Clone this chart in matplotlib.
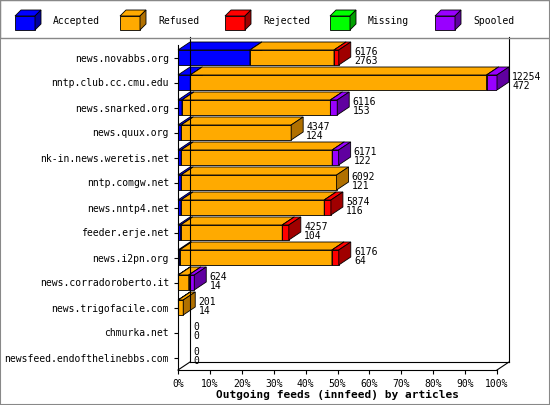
import matplotlib
matplotlib.use("Agg")
import matplotlib.pyplot as plt
from matplotlib.patches import Polygon, Rectangle
import numpy as np

plt.rcParams['font.family'] = 'DejaVu Sans Mono'

hosts = ["news.novabbs.org", "nntp.club.cc.cmu.edu", "news.snarked.org", "news.quux.org",
         "nk-in.news.weretis.net", "nntp.comgw.net", "news.nntp4.net", "feeder.erje.net",
         "news.i2pn.org", "news.corradoroberto.it", "news.trigofacile.com", "chmurka.net",
         "newsfeed.endofthelinebbs.com"]
offered = [6176, 12254, 6116, 4347, 6171, 6092, 5874, 4257, 6176, 624, 201, 0, 0]
accepted = [2763, 472, 153, 124, 122, 121, 116, 104, 64, 14, 14, 0, 0]
refused = [3230, 11382, 5700, 4223, 5800, 5971, 5500, 3900, 5850, 400, 187, 0, 0]
rejected = [183, 0, 0, 0, 0, 0, 258, 253, 262, 0, 0, 0, 0]
missing = [0] * 13
spooled = [0, 400, 263, 0, 249, 0, 0, 0, 0, 210, 0, 0, 0]

series = [("Accepted", accepted, "#0000ff", "#0000a0"),
          ("Refused", refused, "#ffaa00", "#b07000"),
          ("Rejected", rejected, "#ff0000", "#a00000"),
          ("Missing", missing, "#00ff00", "#00a000"),
          ("Spooled", spooled, "#9900ff", "#6000a0")]

W, H = 550, 405
fig = plt.figure(figsize=(W/100, H/100), dpi=100)
fig.patches.append(Rectangle((0, 0), 1, 1, transform=fig.transFigure, fill=False, ec="#888888", lw=1.5))
fig.patches.append(Rectangle((0, 0.905), 1, 0.095, transform=fig.transFigure, fill=False, ec="#888888", lw=1))

x0, x1, y0, y1 = 178, 497, 370, 45
ax = fig.add_axes([x0/W, 1-y0/H, (x1-x0)/W, (y0-y1)/H])
n = len(hosts)
ax.set_xlim(0, 100)
ax.set_ylim(n-0.5, -0.5)
maxv = max(offered)
DX, DY = 12, 8
dx = DX/(x1-x0)*100
dy = DY/(y0-y1)*n
h = 0.6

# back walls
kw = dict(color="black", lw=0.8, clip_on=False)
ax.plot([dx, dx], [n-0.5-dy, -0.5-dy], **kw)
ax.plot([dx, 100+dx], [n-0.5-dy, n-0.5-dy], **kw)
ax.plot([100+dx, 100+dx], [n-0.5-dy, -0.5-dy], **kw)
ax.plot([0, dx], [n-0.5, n-0.5-dy], **kw)
ax.plot([100, 100+dx], [n-0.5, n-0.5-dy], **kw)

for i in range(n):
    left = 0
    for name, vals, c, cd in series:
        w = vals[i]/maxv*100
        if w <= 0:
            continue
        r = left + w
        t, b = i-h/2, i+h/2
        ax.add_patch(Rectangle((left, t), w, h, fc=c, ec="black", lw=0.6))
        ax.add_patch(Polygon([(left, t), (r, t), (r+dx, t-dy), (left+dx, t-dy)], fc=c, ec="black", lw=0.6, clip_on=False))
        ax.add_patch(Polygon([(r, t), (r+dx, t-dy), (r+dx, b-dy), (r, b)], fc=cd, ec="black", lw=0.6, clip_on=False))
        left = r
    tot = offered[i]/maxv*100
    ax.text(tot+dx+1, i-0.05, f"{offered[i]}\n{accepted[i]}", fontsize=7, va="center", ha="left",
            linespacing=0.9, clip_on=False)

ax.set_yticks(range(n))
ax.set_yticklabels(hosts, fontsize=7)
ax.set_xticks(range(0, 101, 10))
ax.set_xticklabels([f"{v}%" for v in range(0, 101, 10)], fontsize=7)
for s in ["top", "right"]:
    ax.spines[s].set_visible(False)
ax.tick_params(length=3, width=0.8)
ax.set_xlabel("Outgoing feeds (innfeed) by articles", fontsize=8, fontweight="bold", labelpad=1)

# legend
lx = [5, 110, 215, 320, 425]
for (name, vals, c, cd), px in zip(series, lx):
    bx, by, bw, bh, d = px+10, 10, 20, 14, 6
    def P(pts):
        return [((x)/W, 1-(y)/H) for x, y in pts]
    fig.patches.append(Polygon(P([(bx, by+d), (bx+bw, by+d), (bx+bw, by+d+bh), (bx, by+d+bh)]), fc=c, ec="black", lw=0.6, transform=fig.transFigure))
    fig.patches.append(Polygon(P([(bx, by+d), (bx+d, by), (bx+bw+d, by), (bx+bw, by+d)]), fc=c, ec="black", lw=0.6, transform=fig.transFigure))
    fig.patches.append(Polygon(P([(bx+bw, by+d), (bx+bw+d, by), (bx+bw+d, by+bh), (bx+bw, by+d+bh)]), fc=cd, ec="black", lw=0.6, transform=fig.transFigure))
    fig.text((bx+bw+d+12)/W, 1-(by+d/2+bh/2+1)/H, name, fontsize=7, va="center")

fig.savefig("out.png", dpi=100)
